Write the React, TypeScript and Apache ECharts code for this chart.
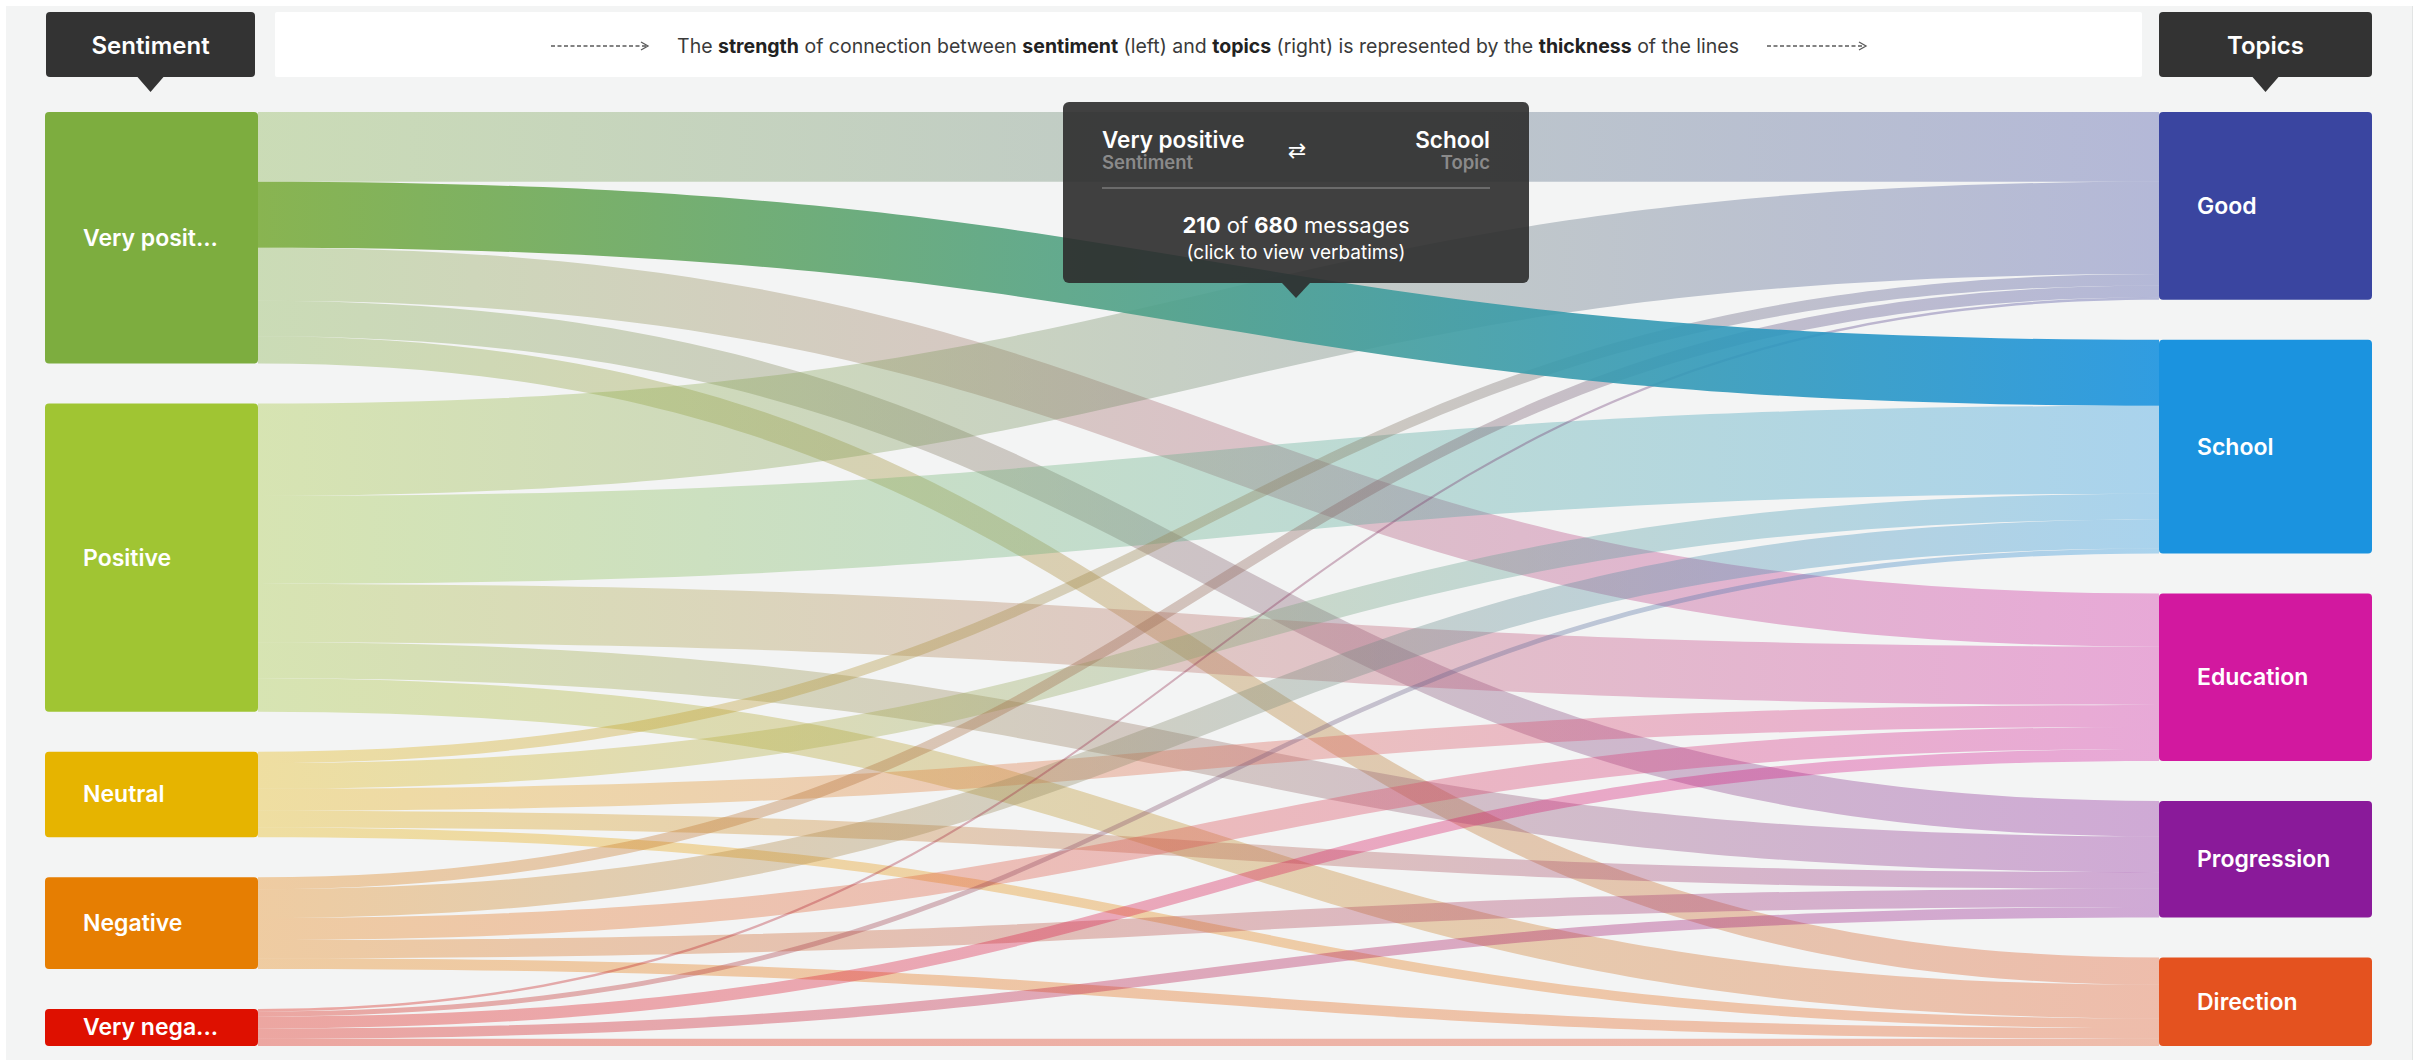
import React, { useEffect, useRef } from "react";
import * as echarts from "echarts";

// Sentiment groups (left column) and topics (right column)
const sentiments = ["Very positive", "Positive", "Neutral", "Negative", "Very negative"];
const sentimentColors = ["#7dad3f", "#a0c533", "#e6b400", "#e67e02", "#de1000"];
const topics = ["Good", "School", "Education", "Progression", "Direction"];
const topicColors = ["#3a45a0", "#1b93df", "#d2189f", "#8a1a9a", "#e4521f"];

// Messages per sentiment, split by topic (same order as `topics`)
const veryPositiveFlows = [222, 210, 169, 113, 87];
const positiveFlows = [294, 280, 186, 114, 107];
const neutralFlows = [36, 82, 70, 53, 31];
const negativeFlows = [38, 92, 70, 58, 34];
const veryNegativeFlows = [8, 16, 38, 33, 23];

// The flow currently pointed at
const focusSentiment = 0;
const focusTopic = 1;

const FONT = "Inter, 'Noto Sans', sans-serif";
const NODE_FONT = `600 23px ${FONT}`;
const LABEL_FULL_MAX = 142;
const LABEL_CUT_MAX = 137;

let measureCtx: CanvasRenderingContext2D | null = null;
function textWidth(text: string, font: string) {
  if (!measureCtx) measureCtx = document.createElement("canvas").getContext("2d");
  measureCtx!.font = font;
  return measureCtx!.measureText(text).width;
}

// Node names that are too long for the box get shortened with an ellipsis
function fitLabel(name: string) {
  if (textWidth(name, NODE_FONT) <= LABEL_FULL_MAX) return name;
  let cut = name;
  while (cut.length > 1 && textWidth(cut + "...", NODE_FONT) > LABEL_CUT_MAX) cut = cut.slice(0, -1);
  return cut.trimEnd() + "...";
}

function buildOption() {
  const flows = [veryPositiveFlows, positiveFlows, neutralFlows, negativeFlows, veryNegativeFlows];

  const nodes = [
    ...sentiments.map((name, i) => ({ name, itemStyle: { color: sentimentColors[i] } })),
    ...topics.map((name, i) => ({ name, itemStyle: { color: topicColors[i] } })),
  ];

  const links: any[] = [];
  flows.forEach((row, i) =>
    row.forEach((value, j) => {
      const focused = i === focusSentiment && j === focusTopic;
      links.push({
        source: sentiments[i],
        target: topics[j],
        value,
        focused,
        lineStyle: focused ? { opacity: 0.9 } : undefined,
      });
    })
  );
  // highlighted flow is drawn last so it sits above the others
  links.sort((a, b) => Number(a.focused) - Number(b.focused));
  links.forEach((l) => delete l.focused);

  const flowValue = flows[focusSentiment][focusTopic];
  const topicTotal = flows.reduce((s, row) => s + row[focusTopic], 0);

  const centered = { align: "center", textAlign: "center", verticalAlign: "middle", textVerticalAlign: "middle" };
  const leftMid = { verticalAlign: "middle", textVerticalAlign: "middle" };
  const rightMid = { align: "right", textAlign: "right", verticalAlign: "middle", textVerticalAlign: "middle" };

  const header = (x: number, w: number, text: string) => {
    const cx = x + w / 2;
    return [
      { type: "rect", z: 100, shape: { x, y: 12, width: w, height: 65, r: 4 }, style: { fill: "#333333" } },
      {
        type: "polygon",
        z: 100,
        shape: { points: [[cx - 13, 77], [cx + 13, 77], [cx, 92]] },
        style: { fill: "#333333" },
      },
      {
        type: "text",
        z: 101,
        x: cx,
        y: 45,
        style: { text, fill: "#ffffff", font: `600 24px ${FONT}`, ...centered },
      },
    ];
  };

  const arrow = (x1: number, x2: number) => [
    {
      type: "line",
      z: 100,
      shape: { x1, y1: 46, x2: x2 - 2, y2: 46 },
      style: { stroke: "#5a5a5a", lineWidth: 1.3, lineDash: [4, 2.5] },
    },
    {
      type: "polyline",
      z: 100,
      shape: { points: [[x2 - 7, 42], [x2, 46], [x2 - 7, 50]] },
      style: { stroke: "#5a5a5a", lineWidth: 1.3, fill: null },
    },
  ];

  const tipFill = "rgba(44,44,44,0.9)";
  const tooltip = [
    { type: "rect", z: 200, shape: { x: 1063, y: 102, width: 466, height: 181, r: 6 }, style: { fill: tipFill } },
    {
      type: "polygon",
      z: 200,
      shape: { points: [[1282, 283], [1310, 283], [1296, 298]] },
      style: { fill: tipFill },
    },
    {
      type: "text",
      z: 201,
      x: 1102,
      y: 139,
      style: { text: sentiments[focusSentiment], fill: "#ffffff", font: `600 22.5px ${FONT}`, ...leftMid },
    },
    {
      type: "text",
      z: 201,
      x: 1102,
      y: 162,
      style: { text: "Sentiment", fill: "#8a8a8a", font: `600 18.5px ${FONT}`, ...leftMid },
    },
    {
      type: "text",
      z: 201,
      x: 1490,
      y: 139,
      style: { text: topics[focusTopic], fill: "#ffffff", font: `600 22.5px ${FONT}`, ...rightMid },
    },
    {
      type: "text",
      z: 201,
      x: 1490,
      y: 162,
      style: { text: "Topic", fill: "#8a8a8a", font: `600 18.5px ${FONT}`, ...rightMid },
    },
    {
      type: "text",
      z: 201,
      x: 1297,
      y: 150,
      style: { text: "⇄", fill: "#ffffff", font: `400 22px 'DejaVu Sans', sans-serif`, ...centered },
    },
    {
      type: "line",
      z: 201,
      shape: { x1: 1102, y1: 188, x2: 1490, y2: 188 },
      style: { stroke: "#7a7a7a", lineWidth: 1.5 },
    },
    {
      type: "text",
      z: 201,
      x: 1296,
      y: 225,
      style: {
        text: `{b|${flowValue}} of {b|${topicTotal}} messages`,
        fill: "#ffffff",
        font: `400 22px ${FONT}`,
        ...centered,
        rich: {
          b: { fill: "#ffffff", font: `700 22px ${FONT}` },
        },
      },
    },
    {
      type: "text",
      z: 201,
      x: 1296,
      y: 252,
      style: { text: "(click to view verbatims)", fill: "#ffffff", font: `400 19px ${FONT}`, ...centered },
    },
  ];

  const banner = [
    { type: "rect", z: 100, shape: { x: 275, y: 12, width: 1867, height: 65, r: 2 }, style: { fill: "#ffffff" } },
    ...arrow(551, 648),
    ...arrow(1767, 1866),
    {
      type: "text",
      z: 101,
      x: 1208,
      y: 46,
      style: {
        text:
          "{n|The }{b|strength}{n| of connection between }{b|sentiment}{n| (left) and }{b|topics}{n| (right) is represented by the }{b|thickness}{n| of the lines}",
        fill: "#333333",
        font: `400 19.5px ${FONT}`,
        ...centered,
        rich: {
          n: { fill: "#3a3a3a", font: `400 19.5px ${FONT}` },
          b: { fill: "#222222", font: `700 19.5px ${FONT}` },
        },
      },
    },
  ];

  return {
    animation: false,
    backgroundColor: "#ffffff",
    graphic: {
      elements: [
        { type: "rect", z: 0, shape: { x: 6, y: 6, width: 2406, height: 1060 }, style: { fill: "#f3f4f4" } },
        { type: "line", z: 0, shape: { x1: 2412.5, y1: 6, x2: 2412.5, y2: 1060 }, style: { stroke: "#e2e4e4", lineWidth: 1 } },
        ...header(46, 209, "Sentiment"),
        ...header(2159, 213, "Topics"),
        ...banner,
        ...tooltip,
      ],
    },
    series: [
      {
        type: "sankey",
        left: 45,
        right: 48,
        top: 112,
        bottom: 14,
        nodeWidth: 213,
        nodeGap: 40,
        layoutIterations: 0,
        nodeAlign: "justify",
        draggable: false,
        emphasis: { disabled: true },
        data: nodes,
        links,
        itemStyle: { borderWidth: 0, borderRadius: 4 },
        lineStyle: { color: "gradient", opacity: 0.34, curveness: 0.5 },
        label: {
          position: "insideLeft",
          distance: 38,
          color: "#ffffff",
          fontFamily: FONT,
          fontSize: 23,
          fontWeight: 600,
          formatter: (p: any) => fitLabel(p.name),
        },
      },
    ],
  };
}

export default function App() {
  const ref = useRef<HTMLDivElement>(null);
  useEffect(() => {
    document.body.style.margin = "0";
    const chart = echarts.init(ref.current!, null, { renderer: "svg" });
    chart.setOption(buildOption() as any);
    return () => chart.dispose();
  }, []);
  return <div ref={ref} style={{ width: 2420, height: 1060 }} />;
}
